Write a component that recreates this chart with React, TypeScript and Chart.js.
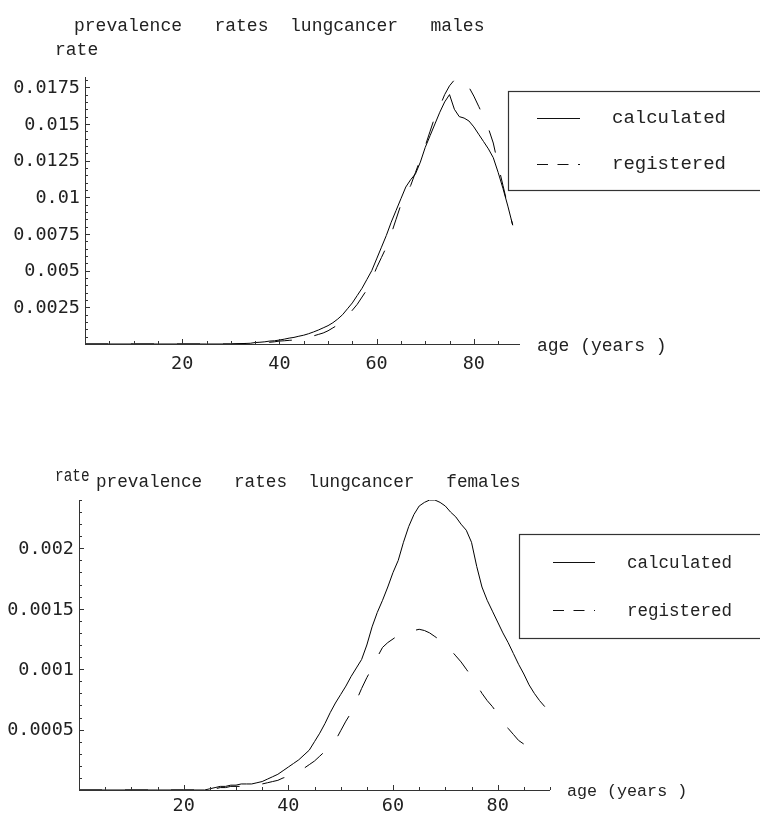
import React, { useEffect, useRef } from "react";
import { Chart, registerables } from "chart.js";

Chart.register(...registerables);

// ---------- data: males ----------
const agesMales = [0, 5, 10, 15, 20, 25, 30, 34, 35, 36, 37, 38, 39, 40, 41, 42, 43, 44, 45, 46, 47, 48, 49, 50, 51, 52, 53, 54, 55, 56, 57, 58, 59, 60, 61, 62, 63, 64, 65, 66, 67, 68, 69, 70, 71, 72, 73, 74, 75, 76, 77, 78, 79, 80, 81, 82, 83, 84, 85, 86, 87, 88];
const calculatedMales = [0, 0, 0, 0, 0, 0, 0, 0.00005, 0.0001, 0.00012, 0.00015, 0.0002, 0.00022, 0.00027, 0.00033, 0.0004, 0.00045, 0.00053, 0.0006, 0.0007, 0.00082, 0.00095, 0.0011, 0.00125, 0.00145, 0.0017, 0.002, 0.0024, 0.0028, 0.0033, 0.0038, 0.0044, 0.005, 0.0058, 0.0066, 0.0074, 0.0083, 0.0091, 0.0099, 0.0107, 0.0112, 0.0116, 0.0124, 0.0134, 0.0142, 0.015, 0.0158, 0.0165, 0.017, 0.016, 0.0155, 0.0154, 0.0152, 0.0148, 0.0143, 0.0138, 0.0133, 0.0127, 0.0117, 0.0106, 0.0094, 0.0081];
const registeredMales = [0, 0, 0, 0, 0, 0, 0, 0.00003, 0.00005, 0.00008, 0.0001, 0.00012, 0.00015, 0.0002, 0.00022, 0.00025, 0.00027, 0.0003, 0.00035, 0.00045, 0.00055, 0.00065, 0.00075, 0.0009, 0.0011, 0.0013, 0.0015, 0.0019, 0.0023, 0.0027, 0.0032, 0.0037, 0.0044, 0.0052, 0.0059, 0.0066, 0.0075, 0.0085, 0.0095, 0.0102, 0.0108, 0.0117, 0.0126, 0.0135, 0.0145, 0.0155, 0.0162, 0.017, 0.0176, 0.018, 0.0182, 0.018, 0.0175, 0.0169, 0.0162, 0.0155, 0.0147, 0.0137, 0.0122, 0.0108, 0.0094, 0.0081];

// ---------- data: females ----------
const agesFemales = [0, 5, 10, 15, 20, 24, 25, 26, 27, 28, 29, 30, 31, 32, 33, 34, 35, 36, 37, 38, 39, 40, 41, 42, 43, 44, 45, 46, 47, 48, 49, 50, 51, 52, 53, 54, 55, 56, 57, 58, 59, 60, 61, 62, 63, 64, 65, 66, 67, 68, 69, 70, 71, 72, 73, 74, 75, 76, 77, 78, 79, 80, 81, 82, 83, 84, 85, 86, 87, 88, 89];
const calculatedFemales = [0, 0, 0, 0, 0, 0, 0.00001, 0.00002, 0.00003, 0.00003, 0.00004, 0.00004, 0.00005, 0.00005, 0.00005, 0.00006, 0.00007, 0.00009, 0.00011, 0.00013, 0.00016, 0.00019, 0.00022, 0.00025, 0.00029, 0.00033, 0.0004, 0.00047, 0.00055, 0.00064, 0.00072, 0.00079, 0.00086, 0.00094, 0.00101, 0.00108, 0.0012, 0.00135, 0.00147, 0.00157, 0.00168, 0.0018, 0.0019, 0.00205, 0.00218, 0.00228, 0.00235, 0.00238, 0.0024, 0.0024, 0.00238, 0.00235, 0.0023, 0.00226, 0.0022, 0.00215, 0.00205, 0.00185, 0.00168, 0.00157, 0.00148, 0.00139, 0.0013, 0.00122, 0.00113, 0.00104, 0.00096, 0.00087, 0.0008, 0.00074, 0.00069];
const registeredFemales = [0, 0, 0, 0, 0, 0, 0.00001, 0.00001, 0.00002, 0.00002, 0.00003, 0.00003, 0.00003, 0.00004, 0.00004, 0.00005, 0.00005, 0.00006, 0.00007, 0.00008, 0.0001, 0.00011, 0.00013, 0.00015, 0.00018, 0.00021, 0.00024, 0.00028, 0.00032, 0.00036, 0.00041, 0.00049, 0.00057, 0.00064, 0.00074, 0.00084, 0.00093, 0.00101, 0.0011, 0.00118, 0.00122, 0.00125, 0.00128, 0.0013, 0.00131, 0.00132, 0.00133, 0.00132, 0.0013, 0.00127, 0.00124, 0.0012, 0.00116, 0.00111, 0.00106, 0.001, 0.00094, 0.00087, 0.0008, 0.00074, 0.00069, 0.00063, 0.00057, 0.00051, 0.00046, 0.00041, 0.00038, 0.00036, 0.00033, 0.00031, null];

// ---------- ticks ----------
const xMajorTicks = [20, 40, 60, 80];
const xMajorLabels = ["20", "40", "60", "80"];
const yMajorMales = [0.0025, 0.005, 0.0075, 0.01, 0.0125, 0.015, 0.0175];
const yMajorMalesLabels = ["0.0025", "0.005", "0.0075", "0.01", "0.0125", "0.015", "0.0175"];
const yMajorFemales = [0.0005, 0.001, 0.0015, 0.002];
const yMajorFemalesLabels = ["0.0005", "0.001", "0.0015", "0.002"];
const seriesNames = ["calculated", "registered"];

type Panel = {
  ages: number[];
  calc: (number | null)[];
  reg: (number | null)[];
  xMax: number;
  xMinorMax: number;
  yMax: number;
  yMinorStep: number;
  yMajor: number[];
  yMajorLabels: string[];
  padding: { left: number; right: number; top: number; bottom: number };
  title: string;
  titleX: number;
  titleY: number;
  titleSize: number;
  rateX: number;
  rateY: number;
  rateScale: number;
  ageX: number;
  ageY: number;
  ageSize: number;
  xLabelGap: number;
  legend: { x: number; y: number; h: number; lx0: number; lx1: number; rows: number[]; tx: number; baselines: number[]; size: number };
};

const MONO = '"Liberation Mono", "Courier New", monospace';
const TICKFONT = '18.5px "DejaVu Sans Mono", monospace';

function makePlugin(p: Panel) {
  return {
    id: "mathematicaAxes",
    afterDatasetsDraw(chart: any) {
      const ctx = chart.ctx as CanvasRenderingContext2D;
      const xs = chart.scales.x;
      const ys = chart.scales.y;
      const x0 = xs.getPixelForValue(0);
      const y0 = ys.getPixelForValue(0);
      const xEnd = xs.getPixelForValue(p.xMax);
      const yTop = ys.getPixelForValue(p.yMax);
      ctx.save();
      ctx.strokeStyle = "#333";
      ctx.fillStyle = "#222";
      ctx.lineWidth = 1;
      // axes
      ctx.beginPath();
      ctx.moveTo(x0 + 0.5, yTop);
      ctx.lineTo(x0 + 0.5, y0 + 0.5);
      ctx.moveTo(x0, y0 + 0.5);
      ctx.lineTo(xEnd, y0 + 0.5);
      ctx.stroke();
      // y minor ticks
      ctx.beginPath();
      for (let v = p.yMinorStep; v <= p.yMax + 1e-12; v += p.yMinorStep) {
        const y = Math.round(ys.getPixelForValue(v)) + 0.5;
        ctx.moveTo(x0, y);
        ctx.lineTo(x0 + 3, y);
      }
      // y major ticks
      p.yMajor.forEach((v) => {
        const y = Math.round(ys.getPixelForValue(v)) + 0.5;
        ctx.moveTo(x0, y);
        ctx.lineTo(x0 + 5, y);
      });
      // x minor ticks
      for (let a = 5; a <= p.xMinorMax; a += 5) {
        const x = Math.round(xs.getPixelForValue(a)) + 0.5;
        ctx.moveTo(x, y0);
        ctx.lineTo(x, y0 - 3);
      }
      xMajorTicks.forEach((a) => {
        const x = Math.round(xs.getPixelForValue(a)) + 0.5;
        ctx.moveTo(x, y0);
        ctx.lineTo(x, y0 - 5);
      });
      ctx.stroke();
      // tick labels
      ctx.font = TICKFONT;
      ctx.textAlign = "right";
      ctx.textBaseline = "middle";
      p.yMajor.forEach((v, i) => {
        ctx.fillText(p.yMajorLabels[i], x0 - 5, ys.getPixelForValue(v) + 1);
      });
      ctx.textAlign = "center";
      ctx.textBaseline = "top";
      xMajorTicks.forEach((a, i) => {
        ctx.fillText(xMajorLabels[i], xs.getPixelForValue(a), y0 + p.xLabelGap);
      });
      // title
      ctx.textAlign = "left";
      ctx.textBaseline = "alphabetic";
      ctx.font = `${p.titleSize}px ${MONO}`;
      ctx.fillText(p.title, p.titleX, p.titleY);
      // rate label
      ctx.save();
      ctx.translate(p.rateX, p.rateY);
      ctx.scale(p.rateScale, 1);
      ctx.font = `18px ${MONO}`;
      ctx.fillText("rate", 0, 0);
      ctx.restore();
      // age label
      ctx.font = `${p.ageSize}px ${MONO}`;
      ctx.fillText("age (years )", p.ageX, p.ageY);
      // legend
      const L = p.legend;
      ctx.fillStyle = "#fff";
      ctx.fillRect(L.x, L.y, 800 - L.x, L.h);
      ctx.strokeStyle = "#333";
      ctx.lineWidth = 1.2;
      ctx.strokeRect(L.x + 0.5, L.y + 0.5, 800 - L.x, L.h);
      ctx.strokeStyle = "#111";
      ctx.lineWidth = 1;
      ctx.beginPath();
      ctx.moveTo(L.lx0, L.rows[0] + 0.5);
      ctx.lineTo(L.lx1, L.rows[0] + 0.5);
      ctx.stroke();
      ctx.setLineDash([11, 9.5]);
      ctx.beginPath();
      ctx.moveTo(L.lx0, L.rows[1] + 0.5);
      ctx.lineTo(L.lx1, L.rows[1] + 0.5);
      ctx.stroke();
      ctx.setLineDash([]);
      ctx.fillStyle = "#222";
      ctx.font = `${L.size}px ${MONO}`;
      ctx.fillText(seriesNames[0], L.tx, L.baselines[0]);
      ctx.fillText(seriesNames[1], L.tx, L.baselines[1]);
      ctx.restore();
    },
  };
}

function ChartPanel({ p, top }: { p: Panel; top: number }) {
  const ref = useRef<HTMLCanvasElement | null>(null);
  useEffect(() => {
    if (!ref.current) return;
    const toPts = (vals: (number | null)[]) => p.ages.map((a, i) => ({ x: a, y: vals[i] }));
    const chart = new Chart(ref.current, {
      type: "line",
      data: {
        datasets: [
          { label: seriesNames[0], data: toPts(p.calc) as any, borderColor: "#000", borderWidth: 1, pointRadius: 0, tension: 0, fill: false },
          { label: seriesNames[1], data: toPts(p.reg) as any, borderColor: "#000", borderWidth: 1, pointRadius: 0, tension: 0, fill: false, borderDash: [23, 23] },
        ],
      },
      options: {
        animation: false,
        responsive: false,
        devicePixelRatio: 1,
        events: [],
        layout: { padding: p.padding },
        scales: {
          x: { type: "linear", min: 0, max: p.xMax, display: false },
          y: { type: "linear", min: 0, max: p.yMax, display: false },
        },
        plugins: { legend: { display: false }, tooltip: { enabled: false }, title: { display: false } },
      },
      plugins: [makePlugin(p)],
    } as any);
    return () => chart.destroy();
  }, [p]);
  return (
    <canvas
      ref={ref}
      width={760}
      height={408}
      style={{ position: "absolute", left: 0, top, width: 760, height: 408 }}
    />
  );
}

const malesPanel: Panel = {
  ages: agesMales,
  calc: calculatedMales,
  reg: registeredMales,
  xMax: 89.5,
  xMinorMax: 85,
  yMax: 0.0182,
  yMinorStep: 0.0005,
  yMajor: yMajorMales,
  yMajorLabels: yMajorMalesLabels,
  padding: { left: 85, right: 240, top: 77, bottom: 64 },
  title: "prevalence   rates  lungcancer   males",
  titleX: 74,
  titleY: 31,
  titleSize: 18,
  rateX: 55,
  rateY: 55,
  rateScale: 1,
  ageX: 537,
  ageY: 351,
  ageSize: 18,
  xLabelGap: 11,
  legend: { x: 508, y: 91, h: 99, lx0: 537, lx1: 580, rows: [118, 164], tx: 612, baselines: [123, 169], size: 19 },
};

const femalesPanel: Panel = {
  ages: agesFemales,
  calc: calculatedFemales,
  reg: registeredFemales,
  xMax: 90,
  xMinorMax: 90,
  yMax: 0.0024,
  yMinorStep: 0.0001,
  yMajor: yMajorFemales,
  yMajorLabels: yMajorFemalesLabels,
  padding: { left: 79, right: 210, top: 92, bottom: 26 },
  title: "prevalence   rates  lungcancer   females",
  titleX: 96,
  titleY: 79,
  titleSize: 17.7,
  rateX: 55,
  rateY: 73,
  rateScale: 0.8,
  ageX: 567,
  ageY: 388,
  ageSize: 16.7,
  xLabelGap: 7,
  legend: { x: 519, y: 126, h: 104, lx0: 553, lx1: 595, rows: [154, 202], tx: 627, baselines: [160, 208], size: 17.5 },
};

export default function App() {
  return (
    <div style={{ position: "absolute", left: 0, top: 0, width: 760, height: 816, background: "#fff", overflow: "hidden" }}>
      <ChartPanel p={malesPanel} top={0} />
      <ChartPanel p={femalesPanel} top={408} />
    </div>
  );
}
